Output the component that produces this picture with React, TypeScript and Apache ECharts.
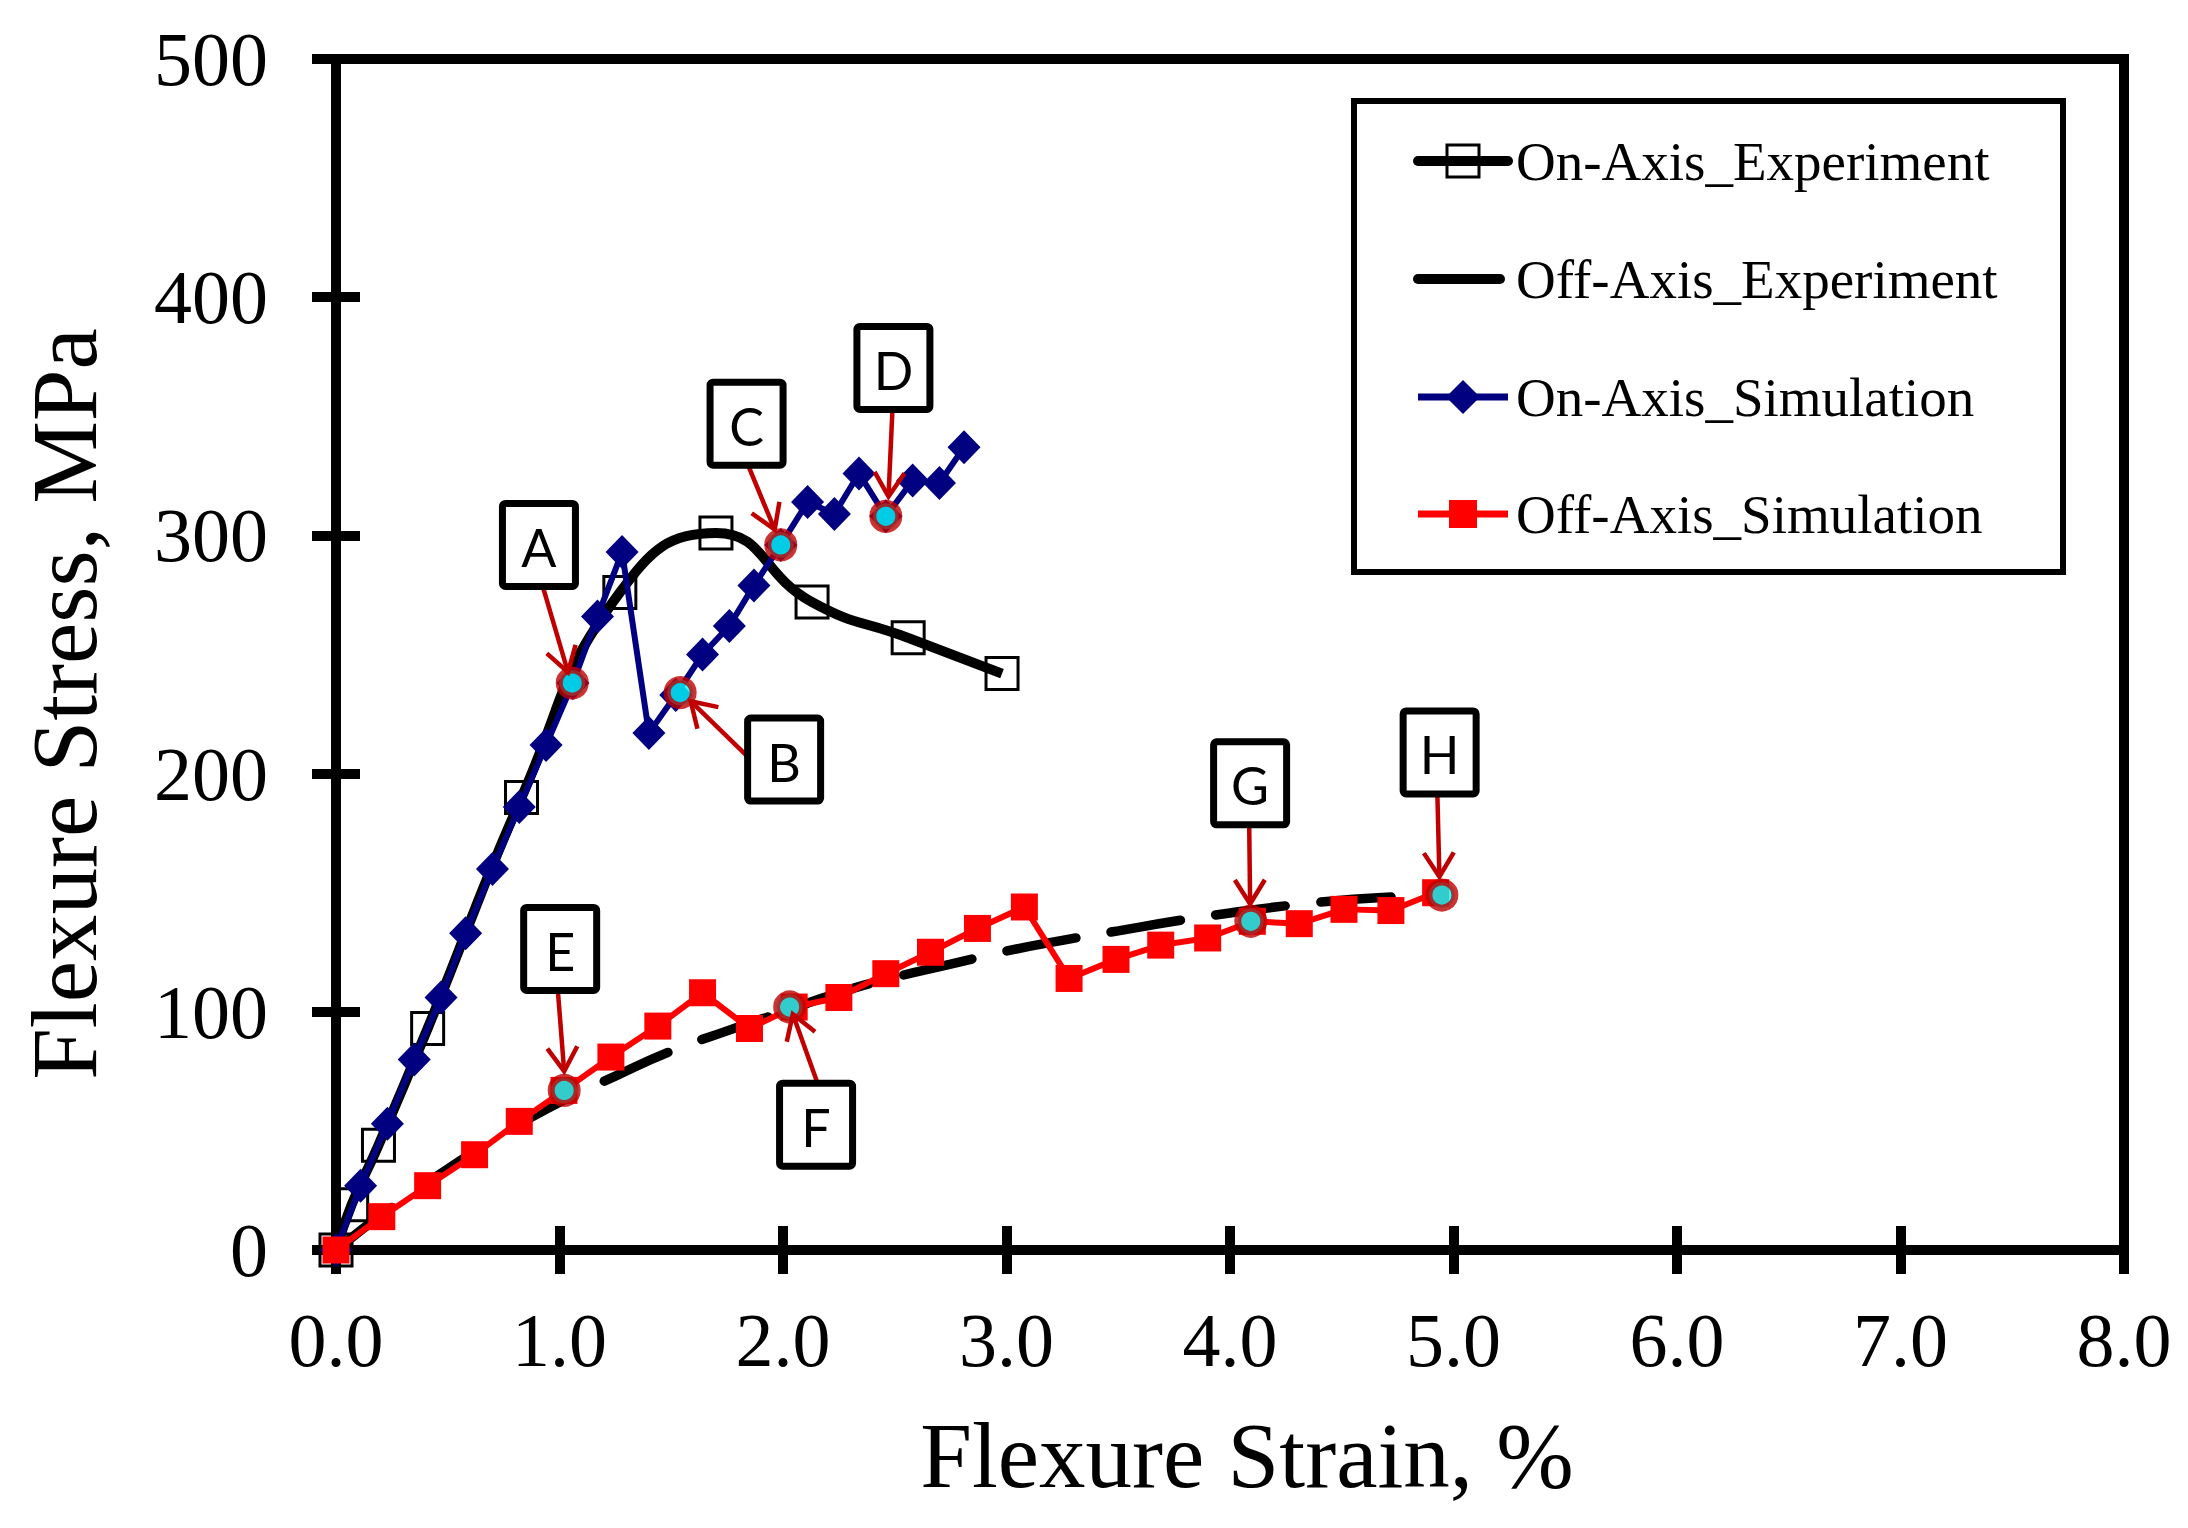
import React, { useEffect, useRef } from 'react';
import * as echarts from 'echarts';

// ---- Data ----
const onAxisExpStrain = [0, 0.07, 0.19, 0.41, 0.83, 1.27, 1.70, 2.13, 2.56, 2.98];
const onAxisExpStress = [0, 19, 44, 93, 190, 276, 301, 272, 257, 242];

const offAxisExpStrain = [0, 0.25, 0.5, 0.75, 1.0, 1.25, 1.5, 1.75, 2.0, 2.25, 2.5, 2.75, 3.0, 3.25, 3.5, 3.75, 4.0, 4.25, 4.5, 4.75];
const offAxisExpStress = [0, 18, 34, 49, 62, 73, 83.5, 92, 100, 108, 114.5, 120, 125.5, 130, 134, 138, 141.5, 144.5, 146.8, 148.3];

const onAxisSimStrain = [0, 0.11, 0.23, 0.35, 0.47, 0.58, 0.70, 0.82, 0.94, 1.06, 1.17, 1.28, 1.40, 1.52, 1.64, 1.76, 1.87, 1.99, 2.11, 2.23, 2.34, 2.46, 2.58, 2.70, 2.81];
const onAxisSimStress = [0, 27, 53, 80, 106, 133, 160, 186, 212, 238, 266, 293, 217, 233, 250, 262, 279, 296, 314, 309, 326, 308, 323, 322, 337];

const offAxisSimStrain = [0, 0.205, 0.41, 0.62, 0.82, 1.02, 1.23, 1.44, 1.64, 1.85, 2.05, 2.25, 2.46, 2.66, 2.87, 3.08, 3.28, 3.49, 3.69, 3.90, 4.10, 4.31, 4.51, 4.72, 4.92];
const offAxisSimStress = [0, 14, 27, 40, 54, 67, 81, 94, 108, 93, 102, 106, 116, 125, 135, 144, 114, 122, 128, 131, 138, 137, 143, 142.5, 150];

// highlighted states A..H
const markLabels = ['A', 'B', 'C', 'D', 'E', 'F', 'G', 'H'];
const markStrain = [1.057, 1.54, 1.99, 2.46, 1.021, 2.03, 4.093, 4.948];
const markStress = [238, 234, 296, 308, 67, 102, 138, 149];

// annotation anchors (in data units): label box centre, arrow tail, arrow tip
const annBoxX = [0.908, 2.005, 1.837, 2.494, 1.003, 2.148, 4.09, 4.938];
const annBoxY = [296, 205.9, 346.9, 370.3, 126.4, 52.6, 195.9, 208.9];
const annTailX = [0.926, 1.85, 1.84, 2.49, 0.993, 2.151, 4.086, 4.928];
const annTailY = [278.3, 206.4, 330.3, 353.4, 108.4, 70.9, 177.7, 190.7];
const annTipX = [1.038, 1.587, 1.963, 2.472, 1.021, 2.044, 4.09, 4.937];
const annTipY = [242.6, 230.4, 302.4, 316.3, 75.0, 99.0, 145.3, 156.7];

const xTicks = [0, 1, 2, 3, 4, 5, 6, 7, 8];
const yTicks = [0, 100, 200, 300, 400, 500];

const seriesNames = ['On-Axis_Experiment', 'Off-Axis_Experiment', 'On-Axis_Simulation', 'Off-Axis_Simulation'];

const SERIF = '"Liberation Serif", "Times New Roman", "DejaVu Serif", serif';
const SANS = 'Lato, "Open Sans", "Liberation Sans", sans-serif';

const BLACK = '#000000';
const NAVY = '#000080';
const RED = '#FF0000';
const DARKRED = '#C00000';
const CYAN = '#00FFFF';

const zip = (xs: number[], ys: number[]) => xs.map((x, i) => [x, ys[i]]);

function legendGraphic() {
  const box = { x: 1354, y: 101, w: 709, h: 471 };
  const rows = [161, 279, 397, 514];
  const lx1 = 1418, lx2 = 1508, cx = 1463, tx = 1516;
  const els: any[] = [
    { type: 'rect', z: 20, shape: { x: box.x, y: box.y, width: box.w, height: box.h }, style: { fill: '#fff', stroke: BLACK, lineWidth: 6 } },
  ];
  // row 1: On-Axis_Experiment
  els.push({ type: 'line', z: 21, shape: { x1: lx1, y1: rows[0], x2: lx2, y2: rows[0] }, style: { stroke: BLACK, lineWidth: 10, lineCap: 'round' } });
  els.push({ type: 'rect', z: 22, shape: { x: cx - 16, y: rows[0] - 16, width: 32, height: 32 }, style: { fill: null, stroke: BLACK, lineWidth: 3 } });
  // row 2: Off-Axis_Experiment
  els.push({ type: 'line', z: 21, shape: { x1: lx1, y1: rows[1], x2: 1500, y2: rows[1] }, style: { stroke: BLACK, lineWidth: 10, lineCap: 'round' } });
  // row 3: On-Axis_Simulation
  els.push({ type: 'line', z: 21, shape: { x1: lx1, y1: rows[2], x2: lx2, y2: rows[2] }, style: { stroke: NAVY, lineWidth: 7 } });
  els.push({ type: 'polygon', z: 22, shape: { points: [[cx, rows[2] - 17], [cx + 17, rows[2]], [cx, rows[2] + 17], [cx - 17, rows[2]]] }, style: { fill: NAVY } });
  // row 4: Off-Axis_Simulation
  els.push({ type: 'line', z: 21, shape: { x1: lx1, y1: rows[3], x2: lx2, y2: rows[3] }, style: { stroke: RED, lineWidth: 7 } });
  els.push({ type: 'rect', z: 22, shape: { x: cx - 14, y: rows[3] - 14, width: 28, height: 28 }, style: { fill: RED } });
  seriesNames.forEach((n, i) => {
    els.push({ type: 'text', z: 22, x: tx, y: rows[i], style: { text: n, align: 'left', verticalAlign: 'middle', fontFamily: SERIF, fontSize: 55, fill: BLACK } });
  });
  return els;
}

export default function App() {
  const ref = useRef<HTMLDivElement>(null);

  useEffect(() => {
    document.body.style.margin = '0';
    if (!ref.current) return;
    const chart = echarts.init(ref.current, undefined, { renderer: 'svg' });

    const gridRect = { left: 336, top: 59, right: 64, bottom: 278 };
    const xMin = xTicks[0], xMax = xTicks[xTicks.length - 1];
    const yMin = yTicks[0], yMax = yTicks[yTicks.length - 1];
    const tickStyle = { color: BLACK, width: 10 };

    const option: any = {
      animation: false,
      backgroundColor: '#fff',
      grid: [
        { ...gridRect, show: true, borderColor: BLACK, borderWidth: 10, backgroundColor: 'transparent', outerBoundsMode: 'none', containLabel: false },
        { ...gridRect, show: false, outerBoundsMode: 'none', containLabel: false },
      ],
      xAxis: [
        {
          type: 'value', gridIndex: 0, min: xMin, max: xMax, interval: 1, position: 'bottom',
          axisLine: { show: true, onZero: false, lineStyle: { color: BLACK, width: 10 } },
          axisTick: { show: true, inside: false, length: 24, lineStyle: tickStyle },
          axisLabel: { show: true, margin: 52, color: BLACK, fontFamily: SERIF, fontSize: 76, formatter: (v: number) => v.toFixed(1) },
          splitLine: { show: false },
        },
        {
          type: 'value', gridIndex: 1, min: xMin, max: xMax, interval: 1, position: 'bottom',
          axisLine: { show: false, onZero: false },
          axisTick: { show: true, inside: true, length: 24, lineStyle: tickStyle },
          axisLabel: { show: false },
          splitLine: { show: false },
        },
      ],
      yAxis: [
        {
          type: 'value', gridIndex: 0, min: yMin, max: yMax, interval: 100, position: 'left',
          axisLine: { show: true, onZero: false, lineStyle: { color: BLACK, width: 10 } },
          axisTick: { show: true, inside: false, length: 24, lineStyle: tickStyle },
          axisLabel: { show: true, margin: 68, color: BLACK, fontFamily: SERIF, fontSize: 76 },
          splitLine: { show: false },
        },
        {
          type: 'value', gridIndex: 1, min: yMin, max: yMax, interval: 100, position: 'left',
          axisLine: { show: false, onZero: false },
          axisTick: { show: true, inside: true, length: 24, lineStyle: tickStyle },
          axisLabel: { show: false },
          splitLine: { show: false },
        },
      ],
      series: [
        {
          name: seriesNames[0], type: 'line', xAxisIndex: 0, yAxisIndex: 0,
          data: zip(onAxisExpStrain, onAxisExpStress),
          smooth: 0.5,
          symbol: 'rect', symbolSize: 32, showAllSymbol: true,
          lineStyle: { color: BLACK, width: 10 },
          itemStyle: { color: 'rgba(255,255,255,0)', borderColor: BLACK, borderWidth: 3 },
          z: 2,
        },
        {
          name: seriesNames[1], type: 'line', xAxisIndex: 0, yAxisIndex: 0,
          data: zip(offAxisExpStrain, offAxisExpStress),
          smooth: true,
          symbol: 'none',
          lineStyle: { color: BLACK, width: 9.5, type: [70, 36], cap: 'round' },
          itemStyle: { color: BLACK },
          z: 2,
        },
        {
          name: seriesNames[2], type: 'line', xAxisIndex: 0, yAxisIndex: 0,
          data: zip(onAxisSimStrain, onAxisSimStress),
          symbol: 'diamond', symbolSize: [33, 34], showAllSymbol: true,
          lineStyle: { color: NAVY, width: 6 },
          itemStyle: { color: NAVY },
          z: 3,
        },
        {
          name: seriesNames[3], type: 'line', xAxisIndex: 0, yAxisIndex: 0,
          data: zip(offAxisSimStrain, offAxisSimStress),
          symbol: 'rect', symbolSize: 27, showAllSymbol: true,
          lineStyle: { color: RED, width: 6 },
          itemStyle: { color: RED },
          z: 3,
        },
        {
          name: 'states', type: 'scatter', xAxisIndex: 0, yAxisIndex: 0,
          data: zip(markStrain, markStress),
          symbol: 'circle', symbolSize: 26,
          itemStyle: { color: CYAN, borderColor: DARKRED, borderWidth: 7 },
          z: 5,
        },
        {
          name: 'annotations', type: 'custom', xAxisIndex: 0, yAxisIndex: 0,
          clip: false,
          z: 6,
          encode: { x: [0, 2, 4], y: [1, 3, 5] },
          data: markLabels.map((_, i) => [annBoxX[i], annBoxY[i], annTailX[i], annTailY[i], annTipX[i], annTipY[i]]),
          renderItem: (params: any, api: any) => {
            const i = params.dataIndex;
            const b = api.coord([api.value(0), api.value(1)]);
            const t = api.coord([api.value(2), api.value(3)]);
            const p = api.coord([api.value(4), api.value(5)]);
            const dx = p[0] - t[0], dy = p[1] - t[1];
            const len = Math.sqrt(dx * dx + dy * dy) || 1;
            const ux = dx / len, uy = dy / len;
            const nx = -uy, ny = ux;
            const L = 24, W = 15;
            const bw = 73, bh = 83;
            return {
              type: 'group',
              children: [
                { type: 'line', shape: { x1: t[0], y1: t[1], x2: p[0], y2: p[1] }, style: { stroke: DARKRED, lineWidth: 4.5 } },
                {
                  type: 'polyline',
                  shape: { points: [[p[0] - L * ux + W * nx, p[1] - L * uy + W * ny], [p[0], p[1]], [p[0] - L * ux - W * nx, p[1] - L * uy - W * ny]] },
                  style: { stroke: DARKRED, lineWidth: 4.5, fill: null, lineJoin: 'miter' },
                },
                { type: 'rect', shape: { x: b[0] - bw / 2, y: b[1] - bh / 2, width: bw, height: bh, r: 3 }, style: { fill: '#fff', stroke: BLACK, lineWidth: 7 } },
                {
                  type: 'text',
                  style: { text: markLabels[i], x: b[0], y: b[1] + 2, align: 'center', verticalAlign: 'middle', fontFamily: SANS, fontSize: 52, fill: BLACK },
                },
              ],
            };
          },
        },
      ],
      graphic: [
        {
          type: 'text',
          x: 1247, y: 1455,
          style: { text: 'Flexure Strain, %', align: 'center', verticalAlign: 'middle', fontFamily: SERIF, fontSize: 93, fill: BLACK },
        },
        {
          type: 'text',
          x: 64, y: 704, rotation: Math.PI / 2,
          style: { text: 'Flexure Stress, MPa', align: 'center', verticalAlign: 'middle', fontFamily: SERIF, fontSize: 93, fill: BLACK },
        },
        ...legendGraphic(),
      ],
    };

    chart.setOption(option);
    return () => chart.dispose();
  }, []);

  return <div ref={ref} style={{ width: 2188, height: 1528 }} />;
}
